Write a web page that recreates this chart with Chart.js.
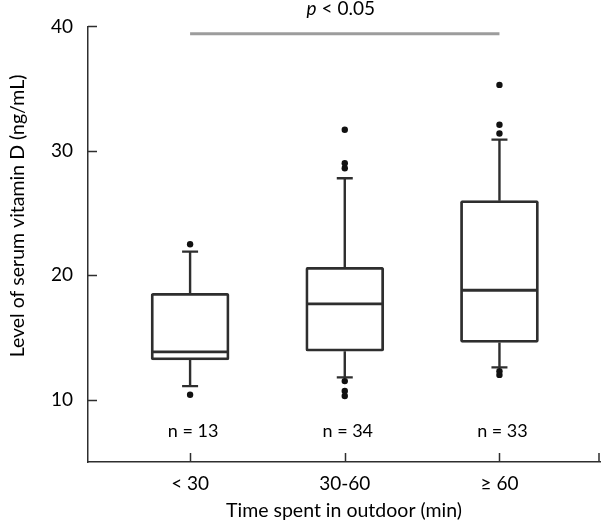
<!DOCTYPE html>
<html>
<head>
<meta charset="utf-8">
<script src="https://cdn.jsdelivr.net/npm/chart.js@4.4.0/dist/chart.umd.min.js"></script>
<style>
html, body { margin: 0; padding: 0; background: #fff; }
</style>
</head>
<body>
<canvas id="chart" width="604" height="523"></canvas>
<script>
// data
const categories = ["< 30", "30-60", "\u2265 60"];
const counts = ["n = 13", "n = 34", "n = 33"];
const q1 = [13.2, 13.9, 14.6];
const medians = [13.85, 17.7, 18.8];
const q3 = [18.55, 20.65, 26.0];
const whiskerLow = [11.1, 11.8, 12.6];
const whiskerHigh = [21.9, 27.8, 30.9];
const outliers = [
    [22.5, 10.4],
    [31.7, 29.0, 28.6, 11.5, 10.7, 10.3],
    [35.3, 32.1, 31.4, 12.3, 12.0]
];
const yTicks = [10, 20, 30, 40];
const pLineValue = 39.4;
const countLabelValue = 7.45;

const FONT = "Lato, 'Open Sans', sans-serif";
const INK = "#000";
const LINE = "#2e2e2e";

var boxPoints = categories.map((c, i) => ({ x: i + 1, y: [q1[i], q3[i]] }));
var outlierPoints = [];
outliers.forEach((vals, i) => {
    vals.forEach(v => outlierPoints.push({ x: i + 1, y: v }));
});

const boxParts = {
    id: 'boxParts',
    beforeDatasetsDraw(chart) {
        const { ctx, scales: { x, y } } = chart;
        ctx.save();
        ctx.strokeStyle = LINE;
        ctx.lineWidth = 2.4;
        categories.forEach((c, i) => {
            const px = x.getPixelForValue(i + 1);
            [[q3[i], whiskerHigh[i]], [q1[i], whiskerLow[i]]].forEach(([from, to]) => {
                const yEnd = y.getPixelForValue(to);
                ctx.beginPath();
                ctx.moveTo(px, y.getPixelForValue(from));
                ctx.lineTo(px, yEnd);
                ctx.moveTo(px - 8, yEnd);
                ctx.lineTo(px + 8, yEnd);
                ctx.stroke();
            });
        });
        // significance line between first and last group
        ctx.strokeStyle = '#9c9c9c';
        ctx.lineWidth = 3;
        ctx.beginPath();
        ctx.moveTo(x.getPixelForValue(1), y.getPixelForValue(pLineValue));
        ctx.lineTo(x.getPixelForValue(categories.length), y.getPixelForValue(pLineValue));
        ctx.stroke();
        ctx.restore();
    },
    afterDatasetsDraw(chart) {
        const { ctx, scales: { x, y } } = chart;
        ctx.save();
        ctx.strokeStyle = LINE;
        ctx.lineWidth = 2.8;
        categories.forEach((c, i) => {
            const px = x.getPixelForValue(i + 1);
            const py = y.getPixelForValue(medians[i]);
            ctx.beginPath();
            ctx.moveTo(px - 37.5, py);
            ctx.lineTo(px + 37.5, py);
            ctx.stroke();
        });
        ctx.restore();
    },
    afterDraw(chart) {
        const { ctx, scales: { x, y } } = chart;
        ctx.save();
        // inward tick marks
        ctx.strokeStyle = LINE;
        ctx.lineWidth = 1.5;
        ctx.beginPath();
        yTicks.forEach(t => {
            const py = Math.round(y.getPixelForValue(t)) + 0.5;
            ctx.moveTo(y.right, py);
            ctx.lineTo(y.right + 9, py);
        });
        categories.forEach((c, i) => {
            const px = Math.round(x.getPixelForValue(i + 1)) + 0.5;
            ctx.moveTo(px, x.top);
            ctx.lineTo(px, x.top - 9);
        });
        ctx.moveTo(x.right - 1, x.top);
        ctx.lineTo(x.right - 1, x.top - 9);
        ctx.stroke();

        // group sizes
        ctx.fillStyle = INK;
        ctx.font = "18px " + FONT;
        ctx.textAlign = 'center';
        ctx.textBaseline = 'middle';
        counts.forEach((c, i) => {
            ctx.fillText(c, x.getPixelForValue(i + 1) + 3, y.getPixelForValue(countLabelValue));
        });

        // p value label
        const mid = (x.getPixelForValue(1) + x.getPixelForValue(categories.length)) / 2 - 4;
        ctx.textBaseline = 'alphabetic';
        ctx.textAlign = 'left';
        ctx.font = "italic 19px " + FONT;
        const wp = ctx.measureText("p").width;
        ctx.font = "19px " + FONT;
        const wr = ctx.measureText(" < 0.05").width;
        const start = mid - (wp + wr) / 2;
        ctx.font = "italic 19px " + FONT;
        ctx.fillText("p", start, 15);
        ctx.font = "19px " + FONT;
        ctx.fillText(" < 0.05", start + wp, 15);

        // y axis title
        ctx.translate(18, 216);
        ctx.rotate(-Math.PI / 2);
        ctx.textAlign = 'center';
        ctx.textBaseline = 'middle';
        ctx.font = "19.5px " + FONT;
        ctx.fillText("Level of serum vitamin D (ng/mL)", 0, 0);
        ctx.restore();
    }
};

var ctx = document.getElementById('chart').getContext('2d');
new Chart(ctx, {
    type: 'bar',
    data: {
        datasets: [
            {
                type: 'bar',
                data: boxPoints,
                backgroundColor: '#fff',
                borderColor: LINE,
                borderWidth: 2.8,
                borderSkipped: false,
                borderRadius: 2,
                barThickness: 78,
                grouped: false
            },
            {
                type: 'scatter',
                data: outlierPoints,
                pointRadius: 3.2,
                pointBackgroundColor: '#111',
                pointBorderWidth: 0
            }
        ]
    },
    options: {
        responsive: false,
        animation: false,
        layout: { padding: { top: 24, right: 4, left: 0, bottom: 0 } },
        plugins: {
            legend: { display: false },
            tooltip: { enabled: false }
        },
        scales: {
            x: {
                type: 'linear',
                offset: false,
                min: 0.34,
                max: 3.65,
                afterBuildTicks: (scale) => {
                    scale.ticks = categories.map((c, i) => ({ value: i + 1 }));
                },
                afterFit: (scale) => { scale.height = 61; },
                grid: { display: false, drawTicks: false, offset: false },
                border: { display: true, color: LINE, width: 1.5 },
                ticks: {
                    color: INK,
                    font: { family: FONT, size: 19 },
                    padding: 10,
                    callback: (v) => categories[v - 1]
                },
                title: {
                    display: true,
                    text: 'Time spent in outdoor (min)',
                    color: INK,
                    font: { family: FONT, size: 19.5 },
                    padding: { top: 0, bottom: 1 }
                }
            },
            y: {
                min: 5,
                max: 40,
                afterBuildTicks: (scale) => {
                    scale.ticks = yTicks.map(v => ({ value: v }));
                },
                afterFit: (scale) => { scale.width = 88; },
                grid: { display: false, drawTicks: false },
                border: { display: true, color: LINE, width: 1.5 },
                ticks: {
                    color: INK,
                    font: { family: FONT, size: 19 },
                    padding: 15
                }
            }
        }
    },
    plugins: [boxParts]
});
</script>
</body>
</html>
